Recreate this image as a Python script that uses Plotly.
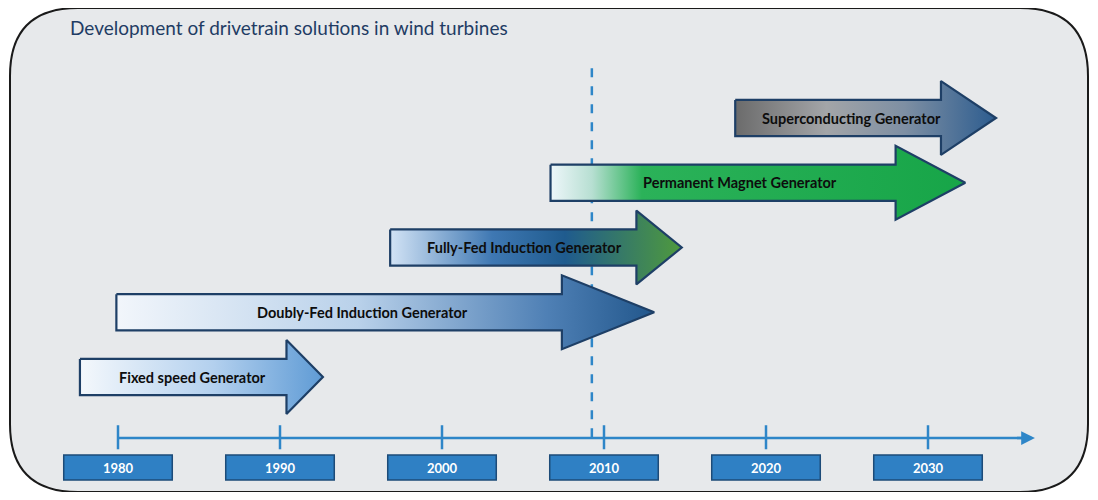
import plotly.graph_objects as go

# timeline data
decades = [1980, 1990, 2000, 2010, 2020, 2030]
today = 2009.25
axis_end = 2036.6

# generator arrows: start year, year where the head begins, tip year
generators = ["Fixed speed Generator", "Doubly-Fed Induction Generator",
              "Fully-Fed Induction Generator", "Permanent Magnet Generator",
              "Superconducting Generator"]
arrow_start = [1977.65, 1979.9, 1996.8, 2006.7, 2018.1]
arrow_head = [1990.4, 2007.4, 2012.0, 2028.0, 2030.8]
arrow_tip = [1992.65, 2013.1, 2014.8, 2032.3, 2034.2]
label_x = [1984.6, 1995.1, 2005.1, 2018.4, 2025.25]
lanes = [0, 1, 2, 3, 4]

gradients = [
    [[0, "#f4f8fc"], [0.55, "#b3d0ee"], [1, "#5f9bd5"]],
    [[0, "#f2f6fb"], [0.45, "#b9d1ea"], [0.8, "#4f80b5"], [1, "#22578c"]],
    [[0, "#d2e3f5"], [0.35, "#3f78b3"], [0.6, "#1f5b8e"], [1, "#4f9a3d"]],
    [[0, "#eef6fa"], [0.1, "#b7dfd2"], [0.22, "#2bb259"], [1, "#17a548"]],
    [[0, "#6b6b6b"], [0.35, "#a3a5a8"], [0.65, "#7e8fa3"], [1, "#2c5c8f"]],
]

BODY = 0.28
HEAD = 0.57
OFF = 8  # page body margin
W, H = 1098 - 2 * OFF, 500 - 2 * OFF
FONT = "Lato, Open Sans"


def px(x, y):
    return (x - OFF) / W, 1 - (y - OFF) / H


fig = go.Figure()

# dashed "today" line
fig.add_trace(go.Scatter(x=[today, today], y=[4.77, -0.97], mode="lines",
                         line=dict(color="#2e86c8", width=2.5, dash="dash"),
                         hoverinfo="skip", showlegend=False))

# timeline axis + ticks
fig.add_trace(go.Scatter(x=[decades[0], axis_end - 0.4], y=[-0.942, -0.942], mode="lines",
                         line=dict(color="#2e86c8", width=2.5),
                         hoverinfo="skip", showlegend=False))
for d in decades:
    fig.add_trace(go.Scatter(x=[d, d], y=[-0.745, -1.116], mode="lines",
                             line=dict(color="#2e86c8", width=2.5),
                             hoverinfo="skip", showlegend=False))
fig.add_annotation(x=axis_end, y=-0.942, ax=axis_end - 1.2, ay=-0.942,
                   xref="x", yref="y", axref="x", ayref="y", text="",
                   showarrow=True, arrowhead=2, arrowsize=1.1, arrowwidth=2.5,
                   arrowcolor="#2e86c8")

# decade label boxes
for d in decades:
    fig.add_shape(type="rect", x0=d - 3.35, x1=d + 3.35, y0=-1.205, y1=-1.59,
                  xref="x", yref="y", fillcolor="#2f80c4",
                  line=dict(color="#1d4b78", width=1.5), layer="above")
    fig.add_annotation(x=d, y=-1.40, text="<b>%d</b>" % d, showarrow=False,
                       font=dict(family=FONT, size=13, color="white"))

# arrows
for name, s, h, t, lx, ln, cs in zip(generators, arrow_start, arrow_head, arrow_tip,
                                      label_x, lanes, gradients):
    xs = [s, h, h, t, h, h, s, s]
    ys = [ln + BODY, ln + BODY, ln + HEAD, ln, ln - HEAD, ln - BODY, ln - BODY, ln + BODY]
    fig.add_trace(go.Scatter(x=xs, y=ys, mode="lines", fill="toself",
                             fillgradient=dict(type="horizontal", colorscale=cs),
                             line=dict(color="#1e3f66", width=2.2),
                             hoverinfo="skip", showlegend=False))
    fig.add_annotation(x=lx, y=ln, text="<b>%s</b>" % name, showarrow=False,
                       font=dict(family=FONT, size=14.5, color="#0d0d0d"))

# rounded background panel
l, r, tp, bt, rad = 10, 1088, 8, 492, 68
pts = [(l + rad, tp), (r - rad, tp), (r, tp), (r, tp + rad), (r, bt - rad), (r, bt),
       (r - rad, bt), (l + rad, bt), (l, bt), (l, bt - rad), (l, tp + rad), (l, tp)]
p = [px(*q) for q in pts]
path = ("M %f %f L %f %f Q %f %f %f %f L %f %f Q %f %f %f %f L %f %f Q %f %f %f %f "
        "L %f %f Q %f %f %f %f Z") % (
    p[0] + p[1] + p[2] + p[3] + p[4] + p[5] + p[6] + p[7] + p[8] + p[9] + p[10] + p[11] + p[0])
fig.add_shape(type="path", path=path, xref="paper", yref="paper",
              fillcolor="#e7e9eb", line=dict(color="#1a1a1a", width=2), layer="below")

tx, ty = px(70, 28)
fig.update_layout(
    width=W, height=H,
    margin=dict(l=0, r=0, t=0, b=0),
    paper_bgcolor="white", plot_bgcolor="rgba(0,0,0,0)",
    title=dict(text="Development of drivetrain solutions in wind turbines",
               x=tx, y=ty, xanchor="left", yanchor="middle",
               font=dict(family=FONT, size=19, color="#1f3c64")),
    xaxis=dict(range=[1973.210, 2040.0], visible=False, fixedrange=True),
    yaxis=dict(range=[-1.776, 5.699], visible=False, fixedrange=True),
)

fig.write_html("out.html")
